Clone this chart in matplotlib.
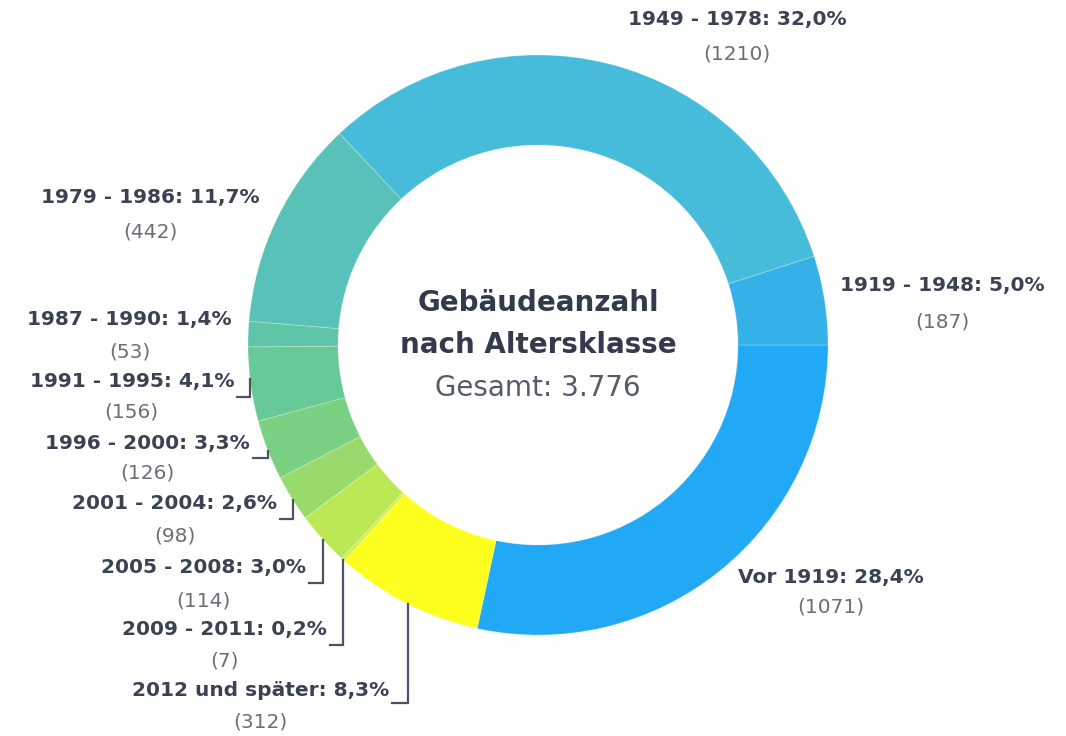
import numpy as np
import matplotlib
matplotlib.use("Agg")
import matplotlib.pyplot as plt

# data: building count per construction-age class
categories = ["Vor 1919", "1919 - 1948", "1949 - 1978", "1979 - 1986", "1987 - 1990",
              "1991 - 1995", "1996 - 2000", "2001 - 2004", "2005 - 2008", "2009 - 2011",
              "2012 und später"]
counts = [1071, 187, 1210, 442, 53, 156, 126, 98, 114, 7, 312]
colors = ["#21a9f5", "#35b1e8", "#46bcda", "#59c2b8", "#5ec5a6", "#67c995",
          "#7ad083", "#98da6c", "#bce856", "#d2f046", "#ffff1f"]

# label layout in pixels: (anchor x, bold line y, count line y, alignment)
label_layout = [
    (738, 577, 607, "left"),
    (840, 285, 322, "left"),
    (737, 20, 54, "center"),
    (260, 198, 232, "right"),
    (232, 320, 352, "right"),
    (234, 382, 412, "right"),
    (250, 443, 473, "right"),
    (277, 503, 536, "right"),
    (306, 567, 601, "right"),
    (327, 629, 661, "right"),
    (389, 690, 722, "right"),
]
# connector elbows: category index -> (vertical x, horizontal y)
connectors = {5: (250, 397), 6: (268, 458), 7: (293, 519),
              8: (323, 583), 9: (343, 645), 10: (408, 703)}

W, H = 1066, 736
cx, cy, R, r_in = 538, 345, 290, 200

def py(y):
    return H - y

fig = plt.figure(figsize=(W / 100, H / 100), dpi=100, facecolor="white")
ax = fig.add_axes([0, 0, 1, 1])
ax.set_xlim(0, W)
ax.set_ylim(0, H)
ax.set_aspect("equal")
ax.axis("off")

total = sum(counts)
ax.pie(counts, colors=colors, center=(cx, py(cy)), radius=R,
       startangle=-360 * counts[0] / total, counterclock=True,
       wedgeprops=dict(width=R - r_in, edgecolor=(1, 1, 1, 0.2), linewidth=0.8))
ax.set_xlim(0, W)
ax.set_ylim(0, H)

label_color = "#3b4254"
count_color = "#6a6e78"
fig.canvas.draw()
renderer = fig.canvas.get_renderer()
for i, (cat, n) in enumerate(zip(categories, counts)):
    x, y1, y2, ha = label_layout[i]
    pct = f"{n / total * 100:.1f}".replace(".", ",")
    t = ax.text(x, py(y1), f"{cat}: {pct}%", ha=ha, va="center", fontsize=14.5,
                fontweight="bold", color=label_color, family="DejaVu Sans")
    bb = t.get_window_extent(renderer)
    mid = (bb.x0 + bb.x1) / 2
    ax.text(mid, py(y2), f"({n})", ha="center", va="center", fontsize=14.5,
            color=count_color, family="DejaVu Sans")
    if i in connectors:
        xv, yh = connectors[i]
        y_ring = cy + np.sqrt(R ** 2 - (xv - cx) ** 2)
        ax.plot([bb.x1 + 3, xv, xv], [py(yh), py(yh), py(y_ring)],
                color="#4d5364", lw=1.6, solid_joinstyle="miter")

ax.text(cx, py(303), "Gebäudeanzahl", ha="center", va="center", fontsize=20,
        fontweight="bold", color="#333a4d")
ax.text(cx, py(345), "nach Altersklasse", ha="center", va="center", fontsize=20,
        fontweight="bold", color="#333a4d")
ax.text(cx, py(388), "Gesamt: " + f"{total:,}".replace(",", "."), ha="center",
        va="center", fontsize=20, color="#555b68")

fig.savefig("out.png", dpi=100, facecolor="white")
